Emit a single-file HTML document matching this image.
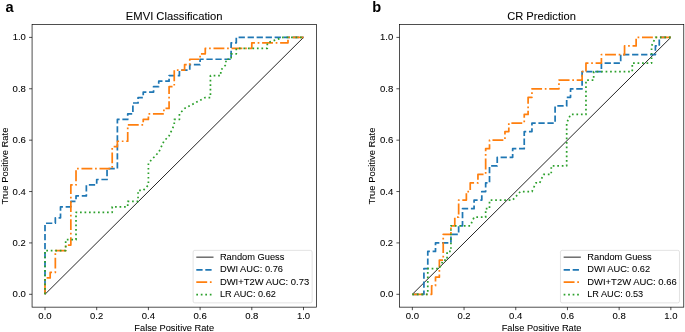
<!DOCTYPE html>
<html><head><meta charset="utf-8"><title>ROC curves</title>
<style>
html,body{margin:0;padding:0;background:#fff;width:685px;height:332px;overflow:hidden}
svg{display:block;will-change:transform}
text{font-family:"Liberation Sans",sans-serif;fill:#000;stroke:#000;stroke-width:0.06px}
text.b{stroke:none}
</style></head><body>
<svg width="685" height="332" viewBox="0 0 685 332">
<rect width="685" height="332" fill="#fff"/>
<path d="M45 294.3L303.5 37.4" stroke="#000" stroke-width="0.86" fill="none"/>
<path d="M45 294.3L45 223.24L55.34 223.24L55.34 217.78L60.51 217.78L60.51 206.84L70.85 206.84L70.85 201.38L76.02 201.38L76.02 195.91L86.36 195.91L86.36 184.98L96.7 184.98L96.7 179.51L107.04 179.51L107.04 168.58L117.38 168.58L117.38 119.39L127.72 119.39L127.72 113.92L132.89 113.92L132.89 102.99L138.06 102.99L138.06 97.53L143.23 97.53L143.23 92.06L153.57 92.06L153.57 86.59L158.74 86.59L158.74 81.13L169.08 81.13L169.08 75.66L179.42 75.66L179.42 70.2L189.76 70.2L189.76 64.73L200.1 64.73L200.1 59.26L231.12 59.26L231.12 42.87L236.29 42.87L236.29 37.4L303.5 37.4" stroke="#1f77b4" stroke-width="1.72" stroke-dasharray="6.29 2.72" stroke-linejoin="round" fill="none"/>
<path d="M45 294.3L45 277.9L50.17 277.9L50.17 272.44L55.34 272.44L55.34 250.57L65.68 250.57L65.68 245.11L70.85 245.11L70.85 184.98L76.02 184.98L76.02 168.58L112.21 168.58L112.21 146.72L117.38 146.72L117.38 141.25L127.72 141.25L127.72 124.86L143.23 124.86L143.23 119.39L148.4 119.39L148.4 113.92L163.91 113.92L163.91 108.46L169.08 108.46L169.08 86.59L174.25 86.59L174.25 70.2L184.59 70.2L184.59 64.73L189.76 64.73L189.76 59.26L200.1 59.26L200.1 53.8L205.27 53.8L205.27 48.33L251.8 48.33L251.8 42.87L287.99 42.87L287.99 37.4L303.5 37.4" stroke="#ff7f0e" stroke-width="1.72" stroke-dasharray="10.88 2.72 1.7 2.72" stroke-linejoin="round" fill="none"/>
<path d="M45 294.3L45 250.57L65.68 250.57L65.68 239.64L76.02 239.64L76.02 212.31L112.21 212.31L112.21 206.84L127.72 206.84L127.72 201.38L138.06 201.38L138.06 190.45L143.23 190.45L148.4 184.98L148.4 163.12L158.74 152.19L163.91 141.25L169.08 135.79L174.25 124.86L174.25 119.39L179.42 119.39L179.42 113.92L184.59 108.46L205.27 97.53L210.44 97.53L210.44 75.66L220.78 75.66L220.78 70.2L225.95 64.73L225.95 59.26L231.12 59.26L231.12 53.8L236.29 53.8L236.29 48.33L267.31 48.33L267.31 42.87L282.82 37.4L303.5 37.4" stroke="#2ca02c" stroke-width="1.72" stroke-dasharray="1.7 2.8" stroke-linejoin="round" fill="none"/>
<rect x="32.07" y="24.55" width="284.36" height="282.6" fill="none" stroke="#000" stroke-width="0.69" stroke-linejoin="miter"/>
<path d="M45 307.15v3.01M32.07 294.3h-3.01M96.7 307.15v3.01M32.07 242.92h-3.01M148.4 307.15v3.01M32.07 191.54h-3.01M200.1 307.15v3.01M32.07 140.16h-3.01M251.8 307.15v3.01M32.07 88.78h-3.01M303.5 307.15v3.01M32.07 37.4h-3.01" stroke="#000" stroke-width="0.69" fill="none"/>
<text transform="translate(38.34 319.45) scale(1.0476 1)" font-size="9.132">0.0</text>
<text transform="translate(12.6 297.3) scale(1.0476 1)" font-size="9.132">0.0</text>
<text transform="translate(90.04 319.45) scale(1.0341 1)" font-size="9.132">0.2</text>
<text transform="translate(12.6 245.92) scale(1.0341 1)" font-size="9.132">0.2</text>
<text transform="translate(141.74 319.45) scale(1.0468 1)" font-size="9.132">0.4</text>
<text transform="translate(12.6 194.54) scale(1.0468 1)" font-size="9.132">0.4</text>
<text transform="translate(193.44 319.45) scale(1.0534 1)" font-size="9.132">0.6</text>
<text transform="translate(12.6 143.16) scale(1.0534 1)" font-size="9.132">0.6</text>
<text transform="translate(245.14 319.45) scale(1.0498 1)" font-size="9.132">0.8</text>
<text transform="translate(12.6 91.78) scale(1.0498 1)" font-size="9.132">0.8</text>
<text transform="translate(296.89 319.45) scale(1.0431 1)" font-size="9.132">1.0</text>
<text transform="translate(12.65 40.4) scale(1.0431 1)" font-size="9.132">1.0</text>
<text transform="translate(134.36 330.9) scale(1.0144 1)" font-size="9.132">False Positive Rate</text>
<text transform="translate(7.7 165.85) rotate(-90) translate(-38.54 0) scale(1.0270 1)" font-size="9.132">True Positive Rate</text>
<text transform="translate(125.78 19.5) scale(1.0263 1)" font-size="10.958">EMVI Classification</text>
<rect x="193.1" y="250.35" width="119.03" height="52.5" rx="1.72" fill="#fff" fill-opacity="0.8" stroke="#ccc" stroke-opacity="0.8" stroke-width="0.69"/>
<path d="M196.3 257.15H213.5" stroke="#000" stroke-width="0.86" fill="none"/>
<text transform="translate(219.91 260.2) scale(1.0173 1)" font-size="9.132">Random Guess</text>
<path d="M196.3 269.8H213.5" stroke="#1f77b4" stroke-width="1.72" stroke-dasharray="6.29 2.72" fill="none"/>
<text transform="translate(219.91 272.45) scale(1.0196 1)" font-size="9.132">DWI AUC: 0.76</text>
<path d="M196.3 282.15H213.5" stroke="#ff7f0e" stroke-width="1.72" stroke-dasharray="10.88 2.72 1.7 2.72" fill="none"/>
<text transform="translate(219.9 284.7) scale(1.0339 1)" font-size="9.132">DWI+T2W AUC: 0.73</text>
<path d="M196.3 294.55H213.5" stroke="#2ca02c" stroke-width="1.72" stroke-dasharray="1.7 2.8" fill="none"/>
<text transform="translate(219.92 296.95) scale(1.0032 1)" font-size="9.132">LR AUC: 0.62</text>
<path d="M412.35 294.3L670.85 37.4" stroke="#000" stroke-width="0.86" fill="none"/>
<path d="M412.35 294.3L423.92 294.3L423.92 268.61L427.78 268.61L427.78 251.48L435.5 251.48L435.5 242.92L450.93 242.92L450.93 234.36L458.65 234.36L458.65 225.79L462.51 225.79L462.51 208.67L474.08 208.67L474.08 200.1L481.8 200.1L481.8 191.54L485.66 191.54L485.66 182.98L489.51 182.98L489.51 165.85L497.23 165.85L497.23 157.29L512.66 157.29L512.66 148.72L524.24 148.72L524.24 131.6L531.95 131.6L531.95 123.03L555.1 123.03L555.1 105.91L566.68 105.91L566.68 97.34L570.54 97.34L570.54 88.78L582.11 88.78L582.11 71.65L601.4 71.65L601.4 63.09L620.69 63.09L620.69 54.53L655.42 54.53L655.42 45.96L659.28 45.96L659.28 37.4L670.85 37.4" stroke="#1f77b4" stroke-width="1.72" stroke-dasharray="6.29 2.72" stroke-linejoin="round" fill="none"/>
<path d="M412.35 294.3L431.64 294.3L431.64 285.74L435.5 285.74L435.5 277.17L439.36 277.17L439.36 260.05L443.22 260.05L443.22 234.36L450.93 234.36L450.93 225.79L454.79 225.79L454.79 217.23L458.65 217.23L458.65 200.1L466.36 200.1L466.36 191.54L470.22 191.54L470.22 182.98L477.94 182.98L477.94 174.41L485.66 174.41L485.66 148.72L489.51 148.72L489.51 140.16L504.95 140.16L504.95 131.6L508.81 131.6L508.81 123.03L524.24 123.03L524.24 114.47L528.1 114.47L528.1 97.34L531.95 97.34L531.95 88.78L558.96 88.78L558.96 80.22L582.11 80.22L582.11 71.65L585.97 71.65L585.97 63.09L601.4 63.09L601.4 54.53L624.55 54.53L624.55 45.96L636.13 45.96L636.13 37.4L670.85 37.4" stroke="#ff7f0e" stroke-width="1.72" stroke-dasharray="10.88 2.72 1.7 2.72" stroke-linejoin="round" fill="none"/>
<path d="M412.35 294.3L427.78 294.3L427.78 268.61L439.36 268.61L443.22 260.05L447.07 260.05L447.07 251.48L450.93 251.48L450.93 225.79L470.22 225.79L474.08 217.23L485.66 217.23L485.66 208.67L489.51 208.67L489.51 200.1L512.66 200.1L520.38 191.54L531.95 191.54L535.81 182.98L539.67 182.98L543.53 174.41L551.25 174.41L551.25 165.85L566.68 165.85L566.68 123.03L570.54 114.47L585.97 114.47L585.97 80.22L593.69 80.22L593.69 71.65L632.27 71.65L632.27 63.09L651.56 63.09L651.56 45.96L655.42 37.4L670.85 37.4" stroke="#2ca02c" stroke-width="1.72" stroke-dasharray="1.7 2.8" stroke-linejoin="round" fill="none"/>
<rect x="399.42" y="24.55" width="284.36" height="282.6" fill="none" stroke="#000" stroke-width="0.69" stroke-linejoin="miter"/>
<path d="M412.35 307.15v3.01M399.42 294.3h-3.01M464.05 307.15v3.01M399.42 242.92h-3.01M515.75 307.15v3.01M399.42 191.54h-3.01M567.45 307.15v3.01M399.42 140.16h-3.01M619.15 307.15v3.01M399.42 88.78h-3.01M670.85 307.15v3.01M399.42 37.4h-3.01" stroke="#000" stroke-width="0.69" fill="none"/>
<text transform="translate(405.69 319.45) scale(1.0476 1)" font-size="9.132">0.0</text>
<text transform="translate(379.95 297.3) scale(1.0476 1)" font-size="9.132">0.0</text>
<text transform="translate(457.39 319.45) scale(1.0341 1)" font-size="9.132">0.2</text>
<text transform="translate(379.95 245.92) scale(1.0341 1)" font-size="9.132">0.2</text>
<text transform="translate(509.09 319.45) scale(1.0468 1)" font-size="9.132">0.4</text>
<text transform="translate(379.95 194.54) scale(1.0468 1)" font-size="9.132">0.4</text>
<text transform="translate(560.79 319.45) scale(1.0534 1)" font-size="9.132">0.6</text>
<text transform="translate(379.95 143.16) scale(1.0534 1)" font-size="9.132">0.6</text>
<text transform="translate(612.49 319.45) scale(1.0498 1)" font-size="9.132">0.8</text>
<text transform="translate(379.95 91.78) scale(1.0498 1)" font-size="9.132">0.8</text>
<text transform="translate(664.24 319.45) scale(1.0431 1)" font-size="9.132">1.0</text>
<text transform="translate(380 40.4) scale(1.0431 1)" font-size="9.132">1.0</text>
<text transform="translate(501.71 330.9) scale(1.0144 1)" font-size="9.132">False Positive Rate</text>
<text transform="translate(375.05 165.85) rotate(-90) translate(-38.54 0) scale(1.0270 1)" font-size="9.132">True Positive Rate</text>
<text transform="translate(507.15 19.5) scale(1.0172 1)" font-size="10.958">CR Prediction</text>
<rect x="560.45" y="250.35" width="119.03" height="52.5" rx="1.72" fill="#fff" fill-opacity="0.8" stroke="#ccc" stroke-opacity="0.8" stroke-width="0.69"/>
<path d="M563.65 257.15H580.85" stroke="#000" stroke-width="0.86" fill="none"/>
<text transform="translate(587.26 260.2) scale(1.0173 1)" font-size="9.132">Random Guess</text>
<path d="M563.65 269.8H580.85" stroke="#1f77b4" stroke-width="1.72" stroke-dasharray="6.29 2.72" fill="none"/>
<text transform="translate(587.26 272.45) scale(1.0158 1)" font-size="9.132">DWI AUC: 0.62</text>
<path d="M563.65 282.15H580.85" stroke="#ff7f0e" stroke-width="1.72" stroke-dasharray="10.88 2.72 1.7 2.72" fill="none"/>
<text transform="translate(587.25 284.7) scale(1.0355 1)" font-size="9.132">DWI+T2W AUC: 0.66</text>
<path d="M563.65 294.55H580.85" stroke="#2ca02c" stroke-width="1.72" stroke-dasharray="1.7 2.8" fill="none"/>
<text transform="translate(587.27 296.95) scale(1.0051 1)" font-size="9.132">LR AUC: 0.53</text>
<text x="5.56" y="11.55" font-size="14.6" font-weight="bold" class="b">a</text>
<text x="372.25" y="11.55" font-size="14.6" font-weight="bold" class="b">b</text>
</svg>
</body></html>
